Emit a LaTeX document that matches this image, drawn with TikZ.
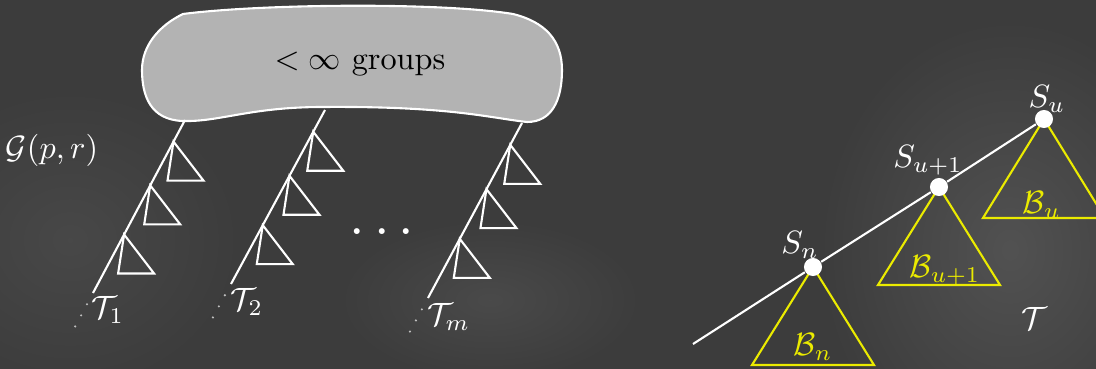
\documentclass[tikz,border=0pt]{standalone}
\usetikzlibrary{calc}
\definecolor{board}{RGB}{60,60,60}
\definecolor{blobgray}{RGB}{179,179,179}
\definecolor{chalkyellow}{RGB}{235,235,0}
\begin{document}
\begin{tikzpicture}[x=0.31pt,y=-0.31pt,
  chalk/.style={draw=white,line width=0.65pt},
  ytri/.style={draw=chalkyellow,line width=0.65pt,line join=miter},
  wtri/.style={draw=white,line width=0.65pt,line join=miter},
  lbl/.style={text=white,inner sep=0pt},
  ylbl/.style={text=chalkyellow,inner sep=0pt},
  snode/.style={circle,fill=white,inner sep=0pt,minimum size=5.6pt},
  dotline/.style={draw=white!75!black,line width=0.75pt,line cap=round,dash pattern=on 0pt off 3.9pt},
  blob/.style={fill=blobgray,draw=white,line width=0.65pt}]
\useasboundingbox (0,0) rectangle (1096,369);
\clip (0,0) rectangle (1096,369);
\fill[board] (0,0) rectangle (1096,369);
\shade[inner color=white!11!board, outer color=board] (1010,250) ellipse (190 and 230);
\shade[inner color=white!7!board, outer color=board] (490,300) ellipse (150 and 80);
\shade[inner color=white!6!board, outer color=board] (70,240) ellipse (170 and 150);

% cloud of finitely many groups
\path[blob] (183,14) .. controls (260,4) and (440,2) .. (513,14)
  .. controls (545,22) and (562,40) .. (562,70)
  .. controls (562,100) and (552,122) .. (527,122)
  .. controls (490,118) and (450,106) .. (323,107)
  .. controls (250,107) and (220,122) .. (183,121)
  .. controls (150,120) and (142,95) .. (142,70)
  .. controls (142,45) and (160,25) .. (183,14) -- cycle;
\node[inner sep=0pt] (grp) at (360,64) {$<\infty$ groups};

\node[lbl] (G) at (52,150) {$\mathcal{G}(p,r)$};

% hanging trees
\foreach \i/\tx/\ty/\bx/\by in {1/185/120/93/293, 2/325/110/231/284, m/522/123/428/298}{
  \coordinate (t\i) at (\tx,\ty);
  \coordinate (b\i) at (\bx,\by);
  \draw[chalk] (t\i) -- (b\i);
  \foreach \p in {0.125,0.378,0.662}
    \draw[wtri] ($(t\i)!\p!(b\i)$) -- ++(-6,39) -- ++(36,0) -- cycle;
  \draw[dotline] ($(t\i)!1.065!(b\i)$) -- ($(t\i)!1.23!(b\i)$);
}
\node[lbl] (T1) at (108,310) {$\mathcal{T}_1$};
\node[lbl] (T2) at (247,302) {$\mathcal{T}_2$};
\node[lbl] (Tm) at (449,317) {$\mathcal{T}_m$};
\node[lbl] (dots) at (382,233) {\fontsize{17.28}{20}\selectfont$\cdots$};

% right tree
\coordinate (pSn) at (813,267);
\coordinate (pSu1) at (939,187);
\coordinate (pSu) at (1044,119);
\coordinate (rstart) at (693,344);
\draw[ytri] (pSn) -- ++(-61,98) -- ++(122,0) -- cycle;
\draw[ytri] (pSu1) -- ++(-61,98) -- ++(122,0) -- cycle;
\draw[ytri] (pSu) -- ++(-61,99) -- ++(122,0) -- cycle;
\node[snode] (Sn) at (pSn) {};
\node[snode] (Su1) at (pSu1) {};
\node[snode] (Su) at (pSu) {};
\draw[chalk] (rstart) -- (Sn) -- (Su1) -- (Su);
\node[lbl] (lSn) at (800,245) {$S_n$};
\node[lbl] (lSu1) at (928,160) {$S_{u+1}$};
\node[lbl] (lSu) at (1047,99) {$S_u$};
\node[ylbl] (Bn) at (813,347) {$\mathcal{B}_n$};
\node[ylbl] (Bu1) at (945,270) {$\mathcal{B}_{u+1}$};
\node[ylbl] (Bu) at (1042,205) {$\mathcal{B}_u$};
\node[lbl] (T) at (1034,318) {$\mathcal{T}$};
\end{tikzpicture}
\end{document}
